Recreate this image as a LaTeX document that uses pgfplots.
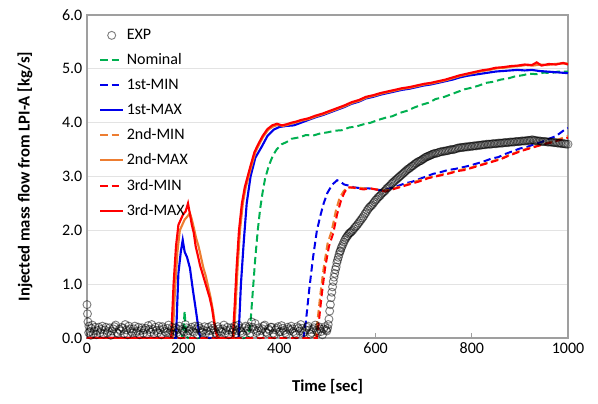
\documentclass[border=0pt]{standalone}
\usepackage{pgfplots}
\pgfplotsset{compat=1.18}
\usepackage{fontspec}
\setmainfont{Carlito}

\definecolor{cgreen}{RGB}{0,176,80}
\definecolor{cblue}{RGB}{0,0,235}
\definecolor{corange}{RGB}{237,125,49}
\definecolor{cred}{RGB}{255,0,0}
\pgfplotsset{
  lineleg/.style={legend image code/.code={\draw[##1] (0pt,0pt) -- (17pt,0pt);}},
  markleg/.style={legend image code/.code={\draw[mark repeat=2,mark phase=2,##1] plot coordinates {(0pt,0pt)(8.5pt,0pt)(17pt,0pt)};}},
}

\begin{document}
\begin{tikzpicture}
\begin{axis}[
   name=ax,
   scale only axis,
   width=360.75pt, height=242.25pt,
   xmin=0, xmax=1000, ymin=0, ymax=6,
   xtick={0,200,...,1000},
   ytick={0,1,...,6},
   /pgf/number format/assume math mode=true,
   yticklabel style={/pgf/number format/fixed,/pgf/number format/fixed zerofill,/pgf/number format/precision=1},
   xticklabel style={/pgf/number format/set thousands separator={}},
   ticklabel style={font=\fontsize{12}{14}\selectfont},
   ymajorgrids,
   grid style={gray!22, line width=0.8pt},
   axis line style={gray!75, line width=0.8pt},
   xtick pos=bottom, xtick align=inside, major tick length=4pt,
   xtick style={gray!75, line width=0.6pt},
   ytick style={draw=none},
   xlabel={Time [sec]},
   ylabel={Injected mass flow from LPI-A [kg/s]},
   xlabel style={font=\bfseries\fontsize{12.5}{15}\selectfont, at={(axis description cs:0.5,-0.152)}, anchor=center},
   ylabel style={font=\bfseries\fontsize{12.5}{15}\selectfont, at={(axis description cs:-0.129,0.5)}, anchor=center},
   legend style={at={(axis description cs:0.025,0.965)}, anchor=north west, draw=none, fill=none,
     font=\fontsize{12}{14}\selectfont, row sep=5.2pt, inner sep=0pt},
   legend cell align=left,
   lineleg,
   every axis plot/.append style={line width=1.6pt},
   dashpat/.style={dash pattern=on 5.5pt off 3pt, line width=1.5pt},
 ]
% EXP
\addplot[only marks, mark=o, mark size=3pt, line width=0.7pt,
   mark options={draw=black, draw opacity=0.5}, markleg]
 coordinates {
 (0,0.62)(1,0.45)(2,0.3)(4,0.22)(6,0.12)(9,0.18)(13,0.08)(17,0.2)(22,0.14)(27,0.1)
 (32,0.22)(37,0.15)(42,0.09)(47,0.19)(52,0.13)(57,0.21)(62,0.1)(67,0.16)(72,0.2)(77,0.08)
 (82,0.15)(87,0.22)(92,0.12)(97,0.17)(102,0.1)(107,0.2)(112,0.14)(117,0.09)(122,0.18)(127,0.23)
 (132,0.11)(137,0.16)(142,0.2)(147,0.1)(152,0.15)(157,0.21)(162,0.12)(167,0.18)(172,0.09)(177,0.2)
 (182,0.14)(187,0.1)(192,0.22)(197,0.16)(202,0.11)(207,0.19)(212,0.13)(217,0.2)(222,0.1)(227,0.17)
 (232,0.22)(237,0.12)(242,0.15)(247,0.09)(252,0.2)(257,0.14)(262,0.18)(267,0.1)(272,0.21)(277,0.13)
 (282,0.17)(287,0.09)(292,0.2)(297,0.15)(302,0.11)(307,0.22)(312,0.14)(317,0.18)(322,0.1)(327,0.19)
 (332,0.13)(337,0.21)(342,0.3)(347,0.16)(352,0.1)(357,0.19)(362,0.14)(367,0.22)(372,0.11)(377,0.17)
 (382,0.2)(387,0.09)(392,0.15)(397,0.21)(402,0.12)(407,0.18)(412,0.1)(417,0.2)(422,0.14)(427,0.17)
 (432,0.09)(437,0.21)(442,0.13)(447,0.18)(452,0.11)(457,0.2)(462,0.15)(467,0.1)(472,0.19)(477,0.14)
 (482,0.21)(487,0.12)(492,0.17)(497,0.15)
 (3.5,0.1)(8,0.05)(11,0.24)(15,0.13)(19.5,0.06)(24.5,0.2)(29.5,0.16)(34.5,0.07)(39.5,0.2)(44.5,0.12)
 (49.5,0.05)(54.5,0.17)(59.5,0.24)(64.5,0.08)(69.5,0.13)(74.5,0.18)(79.5,0.25)(84.5,0.06)(89.5,0.17)(94.5,0.09)
 (99.5,0.22)(104.5,0.13)(109.5,0.06)(114.5,0.19)(119.5,0.15)(124.5,0.07)(129.5,0.16)(134.5,0.25)(139.5,0.08)(144.5,0.14)
 (149.5,0.22)(154.5,0.06)(159.5,0.17)(164.5,0.1)(169.5,0.24)(174.5,0.14)(179.5,0.07)(184.5,0.19)(189.5,0.16)(194.5,0.06)
 (199.5,0.13)(204.5,0.25)(209.5,0.08)(214.5,0.16)(219.5,0.12)(224.5,0.22)(229.5,0.06)(234.5,0.18)(239.5,0.1)(244.5,0.21)
 (249.5,0.13)(254.5,0.06)(259.5,0.23)(264.5,0.15)(269.5,0.07)(274.5,0.17)(279.5,0.11)(284.5,0.24)(289.5,0.14)(294.5,0.06)
 (299.5,0.19)(304.5,0.16)(309.5,0.08)(314.5,0.24)(319.5,0.13)(324.5,0.06)(329.5,0.22)(334.5,0.16)(339.5,0.09)(344.5,0.2)
 (349.5,0.27)(354.5,0.13)(359.5,0.06)(364.5,0.17)(369.5,0.24)(374.5,0.09)(379.5,0.14)(384.5,0.2)(389.5,0.06)(394.5,0.18)
 (399.5,0.11)(404.5,0.23)(409.5,0.14)(414.5,0.07)(419.5,0.17)(424.5,0.22)(429.5,0.12)(434.5,0.06)(439.5,0.18)(444.5,0.25)
 (449.5,0.09)(454.5,0.15)(459.5,0.22)(464.5,0.07)(469.5,0.16)(474.5,0.24)(479.5,0.1)(484.5,0.17)(489.5,0.06)(494.5,0.21)(498.5,0.13)
 (500,0.18)(503,0.35)(506,0.62)(509,0.85)(512,1.05)(515,1.2)(518,1.32)(521,1.45)(524,1.55)(527,1.62)
 (530,1.7)(534,1.78)(538,1.85)(542,1.9)(546,1.95)(550,1.98)(555,2.03)(560,2.08)(565,2.14)(570,2.2)
 (575,2.26)(580,2.33)(585,2.4)(590,2.45)(595,2.5)(600,2.56)(605,2.61)(610,2.65)(615,2.7)(620,2.74)
 (625,2.79)(630,2.83)(635,2.88)(640,2.92)(645,2.96)(650,3.0)(655,3.04)(660,3.08)(665,3.12)(670,3.15)
 (675,3.19)(680,3.22)(685,3.25)(690,3.28)(695,3.3)(700,3.33)(705,3.36)(710,3.38)(715,3.4)(720,3.42)
 (726,3.43)(732,3.45)(738,3.46)(744,3.47)(750,3.48)(756,3.5)(762,3.5)(768,3.52)(774,3.53)(780,3.54)
 (786,3.55)(792,3.55)(798,3.56)(804,3.57)(810,3.57)(816,3.58)(822,3.59)(828,3.59)(834,3.6)(840,3.6)
 (846,3.61)(852,3.61)(858,3.62)(864,3.62)(870,3.63)(876,3.63)(882,3.64)(888,3.64)(894,3.65)(900,3.65)
 (906,3.66)(912,3.66)(918,3.67)(924,3.68)(930,3.67)(936,3.66)(942,3.66)(948,3.65)(954,3.65)(960,3.64)
 (966,3.64)(972,3.63)(978,3.62)(984,3.62)(990,3.61)(996,3.6)(1000,3.6)
 (501.5,0.25)(504.5,0.5)(507.5,0.75)(510.5,0.95)(513.5,1.13)(516.5,1.27)(519.5,1.4)(522.5,1.5)(525.5,1.6)(528.5,1.67)
 (532,1.74)(536,1.82)(540,1.88)(544,1.93)(548,1.96)(552.5,2.0)(557.5,2.06)(562.5,2.11)(567.5,2.17)(572.5,2.23)
 (577.5,2.3)(582.5,2.37)(587.5,2.43)(592.5,2.47)(597.5,2.53)(602.5,2.58)(607.5,2.63)(612.5,2.68)(617.5,2.72)(622.5,2.77)
 (627.5,2.81)(632.5,2.86)(637.5,2.9)(642.5,2.94)(647.5,2.98)(652.5,3.02)(657.5,3.06)(662.5,3.1)(667.5,3.14)(672.5,3.17)
 (677.5,3.2)(682.5,3.24)(687.5,3.27)(692.5,3.29)(697.5,3.32)(702.5,3.35)(707.5,3.37)(712.5,3.39)(717.5,3.41)(723,3.43)
 (729,3.44)(735,3.46)(741,3.47)(747,3.48)(753,3.49)(759,3.5)(765,3.51)(771,3.53)(777,3.54)(783,3.54)
 (789,3.55)(795,3.56)(801,3.56)(807,3.57)(813,3.58)(819,3.58)(825,3.59)(831,3.6)(837,3.6)(843,3.61)
 (849,3.61)(855,3.62)(861,3.62)(867,3.63)(873,3.63)(879,3.64)(885,3.64)(891,3.65)(897,3.65)(903,3.66)
 (909,3.66)(915,3.67)(921,3.67)(927,3.68)(933,3.67)(939,3.66)(945,3.65)(951,3.65)(957,3.64)(963,3.64)
 (969,3.63)(975,3.63)(981,3.62)(987,3.61)(993,3.61)
 };
\addlegendentry{EXP}
% Nominal
\addplot[cgreen, dashpat] coordinates {
 (0,0)(196,0)(200,0.1)(203,0.5)(206,0.05)(210,0)(335,0)(340,0.3)(345,0.9)(350,1.5)(355,2.0)
 (360,2.4)(365,2.7)(370,2.95)(378,3.2)(386,3.38)(394,3.5)(405,3.6)(415,3.64)(425,3.7)(443,3.73)
 (455,3.77)(470,3.76)(485,3.8)(500,3.82)(515,3.85)(530,3.86)(545,3.91)(560,3.93)(575,3.97)(590,4.0)
 (605,4.05)(620,4.09)(635,4.12)(650,4.18)(665,4.22)(680,4.28)(695,4.33)(710,4.37)(725,4.44)(740,4.47)
 (755,4.52)(770,4.57)(785,4.62)(800,4.65)(815,4.69)(830,4.74)(845,4.76)(860,4.8)(875,4.82)(890,4.86)
 (905,4.88)(920,4.91)(935,4.9)(950,4.93)(965,4.92)(980,4.95)(1000,4.95)
 };
\addlegendentry{Nominal}
% 1st-MIN
\addplot[cblue, dashpat] coordinates {
 (0,0)(450,0)(455,0.3)(462,0.9)(470,1.5)(478,2.0)(486,2.3)(492,2.5)(500,2.7)(510,2.85)(520,2.93)
 (527,2.9)(535,2.85)(545,2.83)(555,2.8)(570,2.78)(585,2.78)(600,2.76)(615,2.74)(630,2.78)(645,2.82)
 (660,2.87)(675,2.9)(690,2.95)(705,3.0)(720,3.05)(735,3.08)(750,3.12)(765,3.14)(780,3.17)(795,3.2)
 (810,3.24)(825,3.28)(840,3.33)(855,3.36)(870,3.42)(885,3.47)(900,3.52)(915,3.55)(930,3.6)(945,3.64)
 (960,3.7)(975,3.75)(990,3.85)(1000,3.9)
 };
\addlegendentry{1st-MIN}
% 1st-MAX
\addplot[cblue] coordinates {
 (0,0)(185,0)(190,1.2)(195,1.6)(199,1.82)(203,1.6)(208,1.5)(214,1.3)(220,0.9)(225,0.6)(229,0.35)
 (233,0.1)(236,0)(315,0)(320,1.0)(326,1.8)(332,2.5)(340,3.0)(350,3.35)(363,3.55)(375,3.75)(388,3.87)
 (400,3.92)(415,3.94)(430,3.95)(445,4.0)(460,4.05)(475,4.1)(490,4.14)(505,4.19)(520,4.24)(535,4.29)
 (550,4.35)(565,4.39)(580,4.45)(595,4.48)(610,4.52)(625,4.55)(640,4.58)(655,4.61)(670,4.63)(685,4.66)
 (700,4.69)(715,4.71)(730,4.74)(745,4.77)(760,4.8)(775,4.84)(790,4.87)(805,4.89)(820,4.91)(835,4.93)
 (850,4.95)(865,4.96)(880,4.97)(895,4.98)(910,4.97)(925,4.98)(940,4.96)(955,4.95)(970,4.94)(985,4.93)(1000,4.92)
 };
\addlegendentry{1st-MAX}
% 2nd-MIN
\addplot[corange, dashpat] coordinates {
 (0,0)(475,0)(479,0.3)(485,0.8)(492,1.3)(500,1.75)(509,2.0)(517,2.35)(525,2.6)(533,2.72)(541,2.8)
 (550,2.79)(560,2.8)(575,2.78)(590,2.77)(605,2.76)(620,2.74)(635,2.77)(650,2.81)(665,2.85)(680,2.9)
 (695,2.94)(710,2.98)(725,3.01)(740,3.04)(755,3.07)(770,3.11)(785,3.14)(800,3.17)(815,3.21)(830,3.25)
 (845,3.29)(860,3.33)(875,3.39)(890,3.44)(905,3.49)(920,3.53)(935,3.57)(950,3.61)(965,3.64)(980,3.69)(1000,3.75)
 };
\addlegendentry{2nd-MIN}
% 2nd-MAX
\addplot[corange] coordinates {
 (0,0)(178,0)(183,0.9)(188,1.6)(193,2.0)(198,2.1)(203,2.2)(208,2.25)(214,2.32)(218,2.2)(222,2.05)
 (227,1.85)(232,1.7)(237,1.5)(242,1.3)(247,1.15)(252,0.95)(257,0.75)(262,0.5)(266,0.25)(270,0.05)
 (274,0)(305,0)(309,0.6)(313,1.3)(318,2.0)(324,2.5)(330,2.8)(336,3.0)(342,3.2)(350,3.45)(358,3.6)
 (367,3.75)(377,3.87)(387,3.93)(397,3.96)(407,3.94)(417,3.96)(427,3.99)(437,4.01)(447,4.04)(462,4.07)
 (477,4.12)(492,4.16)(507,4.21)(522,4.26)(537,4.31)(552,4.37)(567,4.41)(582,4.47)(597,4.5)(612,4.54)
 (627,4.57)(642,4.6)(657,4.63)(672,4.65)(687,4.68)(702,4.71)(717,4.73)(732,4.76)(747,4.79)(762,4.83)
 (777,4.87)(792,4.9)(807,4.93)(822,4.96)(837,4.98)(852,5.01)(867,5.02)(882,5.04)(897,5.05)(912,5.07)
 (927,5.06)(942,5.08)(957,5.07)(972,5.09)(987,5.1)(1000,5.1)
 };
\addlegendentry{2nd-MAX}
% 3rd-MIN
\addplot[cred, dashpat] coordinates {
 (0,0)(478,0)(482,0.3)(488,0.8)(495,1.3)(503,1.7)(512,1.95)(520,2.3)(528,2.55)(535,2.7)(542,2.8)
 (550,2.8)(560,2.78)(575,2.76)(590,2.78)(605,2.75)(620,2.72)(635,2.76)(650,2.8)(665,2.84)(680,2.88)
 (695,2.92)(710,2.97)(725,3.0)(740,3.03)(755,3.06)(770,3.1)(785,3.12)(800,3.16)(815,3.2)(830,3.24)
 (845,3.28)(860,3.32)(875,3.38)(890,3.43)(905,3.48)(920,3.52)(935,3.56)(950,3.6)(965,3.63)(980,3.67)(1000,3.72)
 };
\addlegendentry{3rd-MIN}
% 3rd-MAX
\addplot[cred] coordinates {
 (0,0)(175,0)(180,1.0)(185,1.7)(190,2.1)(195,2.2)(200,2.3)(205,2.35)(210,2.5)(214,2.3)(218,2.1)
 (222,1.95)(226,1.7)(230,1.55)(235,1.35)(240,1.2)(245,1.05)(250,0.9)(255,0.75)(260,0.55)(264,0.3)
 (268,0.1)(272,0)(303,0)(307,0.6)(311,1.3)(316,2.0)(322,2.5)(328,2.8)(334,3.0)(340,3.2)(348,3.45)
 (356,3.6)(365,3.75)(375,3.88)(385,3.95)(395,3.98)(405,3.95)(415,3.97)(425,4.0)(435,4.02)(445,4.05)
 (460,4.08)(475,4.13)(490,4.17)(505,4.22)(520,4.27)(535,4.32)(550,4.38)(565,4.42)(580,4.48)(595,4.51)
 (610,4.55)(625,4.58)(640,4.61)(655,4.64)(670,4.66)(685,4.69)(700,4.72)(715,4.74)(730,4.77)(745,4.8)
 (760,4.84)(775,4.88)(790,4.91)(805,4.94)(820,4.97)(835,4.99)(850,5.02)(865,5.03)(880,5.05)(895,5.06)
 (910,5.08)(925,5.07)(935,5.12)(945,5.06)(960,5.09)(975,5.08)(990,5.11)(1000,5.08)
 };
\addlegendentry{3rd-MAX}
\end{axis}
\pgfresetboundingbox
\path[use as bounding box] ([xshift=-65.25pt,yshift=-48.75pt]ax.south west) rectangle ([xshift=22.5pt,yshift=11.25pt]ax.north east);
\end{tikzpicture}
\end{document}
